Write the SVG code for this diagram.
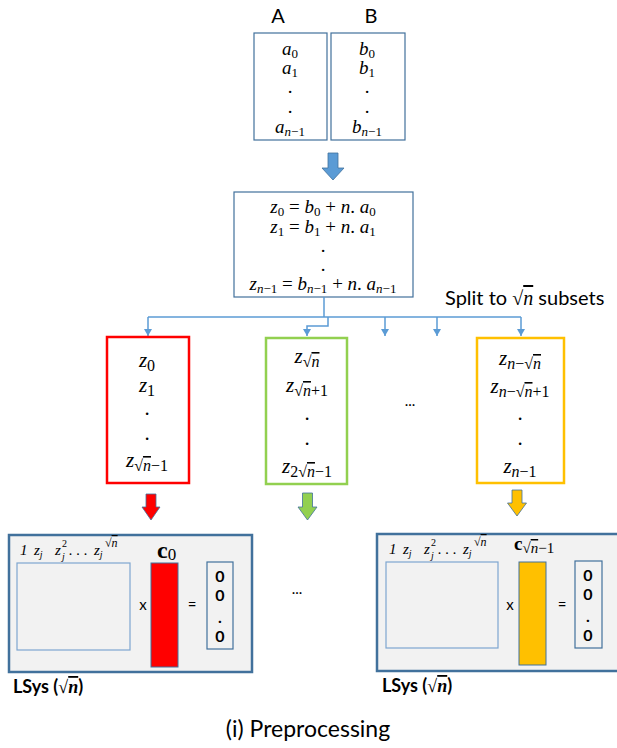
<svg xmlns="http://www.w3.org/2000/svg" width="617" height="748" viewBox="0 0 617 748">
<style>
.m{font-family:"Liberation Serif","DejaVu Serif",serif;fill:#000}
.it{font-style:italic}
.ov{text-decoration:overline}
.sans{font-family:Lato,"Liberation Sans",sans-serif;fill:#000}
.bx{fill:#fff;stroke:#41719c;stroke-width:1.2}
.conn{fill:none;stroke:#5b9bd5;stroke-width:1.5}
.lsys{fill:#f2f2f2;stroke:#41719c;stroke-width:2.5}
.mat{fill:none;stroke:#7ea6d0;stroke-width:1.2}
.zv{fill:none;stroke:#41719c;stroke-width:1.2}
.zero{font-family:Lato,"Liberation Sans",sans-serif;font-weight:bold;font-size:16px;text-anchor:middle}
</style>
<defs>
<marker id="ah" markerWidth="8" markerHeight="8" refX="7" refY="4" orient="auto" markerUnits="userSpaceOnUse">
<path d="M0,0 L7,4 L0,8 z" fill="#5b9bd5"/>
</marker>
</defs>
<rect width="617" height="748" fill="#fff"/>

<g id="labelA"><text x="278" y="23" class="sans" font-size="20" text-anchor="middle">A</text></g>
<g id="labelB"><text x="371" y="23" class="sans" font-size="20" text-anchor="middle">B</text></g>

<g id="boxA">
<rect x="254" y="33" width="73" height="107" class="bx"/>
<g class="m" font-size="19" text-anchor="middle">
<text x="290" y="55"><tspan class="it">a</tspan><tspan font-size="13" dy="3">0</tspan></text>
<text x="290" y="74"><tspan class="it">a</tspan><tspan font-size="13" dy="3">1</tspan></text>
<text x="290" y="93">.</text>
<text x="290" y="113">.</text>
<text x="290" y="133"><tspan class="it">a</tspan><tspan font-size="13" dy="3"><tspan class="it">n</tspan>−1</tspan></text>
</g>
</g>
<g id="boxB">
<rect x="331" y="33" width="74" height="107" class="bx"/>
<g class="m" font-size="19" text-anchor="middle">
<text x="367" y="55"><tspan class="it">b</tspan><tspan font-size="13" dy="3">0</tspan></text>
<text x="367" y="74"><tspan class="it">b</tspan><tspan font-size="13" dy="3">1</tspan></text>
<text x="367" y="93">.</text>
<text x="367" y="113">.</text>
<text x="367" y="133"><tspan class="it">b</tspan><tspan font-size="13" dy="3"><tspan class="it">n</tspan>−1</tspan></text>
</g>
</g>

<g id="arrowTop">
<path d="M328 153 H338 V168 H344 L333 180 L322 168 H328 Z" fill="#5b9bd5" stroke="#41719c" stroke-width="0.8"/>
</g>

<g id="boxZ">
<rect x="234" y="192" width="179" height="105" class="bx"/>
<g class="m" font-size="19" text-anchor="middle">
<text x="323" y="213"><tspan class="it">z</tspan><tspan font-size="13" dy="3">0</tspan><tspan dy="-3"> = </tspan><tspan class="it">b</tspan><tspan font-size="13" dy="3">0</tspan><tspan dy="-3"> + </tspan><tspan class="it">n</tspan><tspan>. </tspan><tspan class="it">a</tspan><tspan font-size="13" dy="3">0</tspan></text>
<text x="323" y="233"><tspan class="it">z</tspan><tspan font-size="13" dy="3">1</tspan><tspan dy="-3"> = </tspan><tspan class="it">b</tspan><tspan font-size="13" dy="3">1</tspan><tspan dy="-3"> + </tspan><tspan class="it">n</tspan><tspan>. </tspan><tspan class="it">a</tspan><tspan font-size="13" dy="3">1</tspan></text>
<text x="323" y="252">.</text>
<text x="323" y="271">.</text>
<text x="323" y="290"><tspan class="it">z</tspan><tspan font-size="13" dy="3"><tspan class="it">n</tspan>−1</tspan><tspan dy="-3"> = </tspan><tspan class="it">b</tspan><tspan font-size="13" dy="3"><tspan class="it">n</tspan>−1</tspan><tspan dy="-3"> + </tspan><tspan class="it">n</tspan><tspan>. </tspan><tspan class="it">a</tspan><tspan font-size="13" dy="3"><tspan class="it">n</tspan>−1</tspan></text>
</g>
</g>

<g id="splitLabel">
<text x="445" y="305" class="sans" font-size="20">Split to <tspan class="m" font-size="20">√<tspan class="it ov">n</tspan></tspan> subsets</text>
</g>

<g id="connectors">
<path class="conn" d="M324 297 V317"/>
<path class="conn" d="M148 317 H521"/>
<path class="conn" d="M148 317 V336" marker-end="url(#ah)"/>
<path class="conn" d="M328 317 V326 H307 V336" marker-end="url(#ah)"/>
<path class="conn" d="M385 317 V336" marker-end="url(#ah)"/>
<path class="conn" d="M437 317 V336" marker-end="url(#ah)"/>
<path class="conn" d="M521 317 V336" marker-end="url(#ah)"/>
</g>

<g id="subsetRed">
<rect x="107" y="337" width="82" height="146" fill="#fff" stroke="#ff0000" stroke-width="2.5"/>
<g class="m" font-size="21" text-anchor="middle">
<text x="147" y="367"><tspan class="it">z</tspan><tspan font-size="16" dy="4">0</tspan></text>
<text x="147" y="392"><tspan class="it">z</tspan><tspan font-size="16" dy="4">1</tspan></text>
<text x="147" y="415">.</text>
<text x="147" y="440">.</text>
<text x="147" y="467"><tspan class="it">z</tspan><tspan font-size="16" dy="4">√<tspan class="it ov">n</tspan>−1</tspan></text>
</g>
</g>

<g id="subsetGreen">
<rect x="266" y="338" width="81" height="146" fill="#fff" stroke="#92d050" stroke-width="2.5"/>
<g class="m" font-size="21" text-anchor="middle">
<text x="307" y="363"><tspan class="it">z</tspan><tspan font-size="16" dy="4">√<tspan class="it ov">n</tspan></tspan></text>
<text x="307" y="392"><tspan class="it">z</tspan><tspan font-size="16" dy="4">√<tspan class="it ov">n</tspan>+1</tspan></text>
<text x="307" y="420">.</text>
<text x="307" y="445">.</text>
<text x="307" y="473"><tspan class="it">z</tspan><tspan font-size="16" dy="4">2√<tspan class="it ov">n</tspan>−1</tspan></text>
</g>
</g>

<g id="midDots"><text x="410" y="406" class="sans" font-size="15" text-anchor="middle">...</text></g>

<g id="subsetOrange">
<rect x="477" y="338" width="87" height="145" fill="#fff" stroke="#ffc000" stroke-width="2.5"/>
<g class="m" font-size="21" text-anchor="middle">
<text x="520" y="365"><tspan class="it">z</tspan><tspan font-size="16" dy="4"><tspan class="it">n</tspan>−√<tspan class="it ov">n</tspan></tspan></text>
<text x="520" y="393"><tspan class="it">z</tspan><tspan font-size="16" dy="4"><tspan class="it">n</tspan>−√<tspan class="it ov">n</tspan>+1</tspan></text>
<text x="520" y="420">.</text>
<text x="520" y="445">.</text>
<text x="520" y="473"><tspan class="it">z</tspan><tspan font-size="16" dy="4"><tspan class="it">n</tspan>−1</tspan></text>
</g>
</g>

<g id="arrowRed"><path d="M146 494 H156 V507 H160 L151 520 L142 507 H146 Z" fill="#ff0000" stroke="#41719c" stroke-width="0.8"/></g>
<g id="arrowGreen"><path d="M302.5 493 H312.5 V507 H317 L307.5 520 L298 507 H302.5 Z" fill="#92d050" stroke="#41719c" stroke-width="0.8"/></g>
<g id="arrowOrange"><path d="M512 490 H522 V503 H526.5 L517 516 L507.5 503 H512 Z" fill="#ffc000" stroke="#41719c" stroke-width="0.8"/></g>

<g id="lsysLeft">
<rect x="9" y="535" width="243" height="137" class="lsys"/>
<g class="m it" font-size="15">
<text x="20" y="555">1</text>
<text x="34" y="555">z<tspan font-size="10" dy="3">j</tspan></text>
<text x="55" y="555">z</text><text x="62" y="547" font-size="10" font-style="normal">2</text><text x="62" y="560" font-size="10">j</text>
<text x="69" y="555">. . .</text>
<text x="94" y="555">z<tspan font-size="10" dy="3">j</tspan></text>
<text x="105" y="547" font-size="12" font-style="normal">√<tspan class="it ov">n</tspan></text>
</g>
<text x="157" y="558" class="m" font-size="24" font-weight="bold">c<tspan font-size="17" font-weight="normal" dy="2">0</tspan></text>
<rect x="17" y="563" width="113" height="87" class="mat"/>
<text x="143" y="610" class="sans" font-size="15" text-anchor="middle">x</text>
<rect x="151" y="563" width="27" height="104" fill="#ff0000" stroke="#41719c" stroke-width="1"/>
<text x="192" y="610" class="sans" font-size="15" text-anchor="middle">=</text>
<rect x="207" y="562" width="26" height="87" class="zv"/>
<text x="220" y="582" class="zero">0</text>
<text x="220" y="601" class="zero">0</text>
<text x="220" y="623" class="zero">.</text>
<text x="220" y="642" class="zero">0</text>
<text x="13" y="693" class="sans" font-size="18" font-weight="bold">LSys (<tspan class="m" font-weight="bold">√<tspan class="it ov">n</tspan></tspan>)</text>
</g>

<g id="bottomDots"><text x="297" y="594" class="sans" font-size="15" text-anchor="middle">...</text></g>

<g id="lsysRight">
<rect x="377" y="534" width="250" height="137" class="lsys"/>
<g class="m it" font-size="15">
<text x="389" y="554">1</text>
<text x="403" y="554">z<tspan font-size="10" dy="3">j</tspan></text>
<text x="424" y="554">z</text><text x="431" y="546" font-size="10" font-style="normal">2</text><text x="431" y="559" font-size="10">j</text>
<text x="438" y="554">. . .</text>
<text x="463" y="554">z<tspan font-size="10" dy="3">j</tspan></text>
<text x="474" y="546" font-size="12" font-style="normal">√<tspan class="it ov">n</tspan></text>
</g>
<text x="514" y="550" class="m" font-size="19" font-weight="bold">c<tspan font-size="15" font-weight="normal" dy="3">√<tspan class="it ov">n</tspan>−1</tspan></text>
<rect x="386" y="562" width="112" height="86" class="mat"/>
<text x="510" y="610" class="sans" font-size="15" text-anchor="middle">x</text>
<rect x="519" y="562" width="27" height="103" fill="#ffc000" stroke="#41719c" stroke-width="1"/>
<text x="562" y="610" class="sans" font-size="15" text-anchor="middle">=</text>
<rect x="575" y="561" width="27" height="87" class="zv"/>
<text x="588" y="581" class="zero">0</text>
<text x="588" y="600" class="zero">0</text>
<text x="588" y="622" class="zero">.</text>
<text x="588" y="641" class="zero">0</text>
<text x="382" y="692" class="sans" font-size="18" font-weight="bold">LSys (<tspan class="m" font-weight="bold">√<tspan class="it ov">n</tspan></tspan>)</text>
</g>

<g id="caption"><text x="308" y="737" class="sans" font-size="23" text-anchor="middle">(i) Preprocessing</text></g>
</svg>
